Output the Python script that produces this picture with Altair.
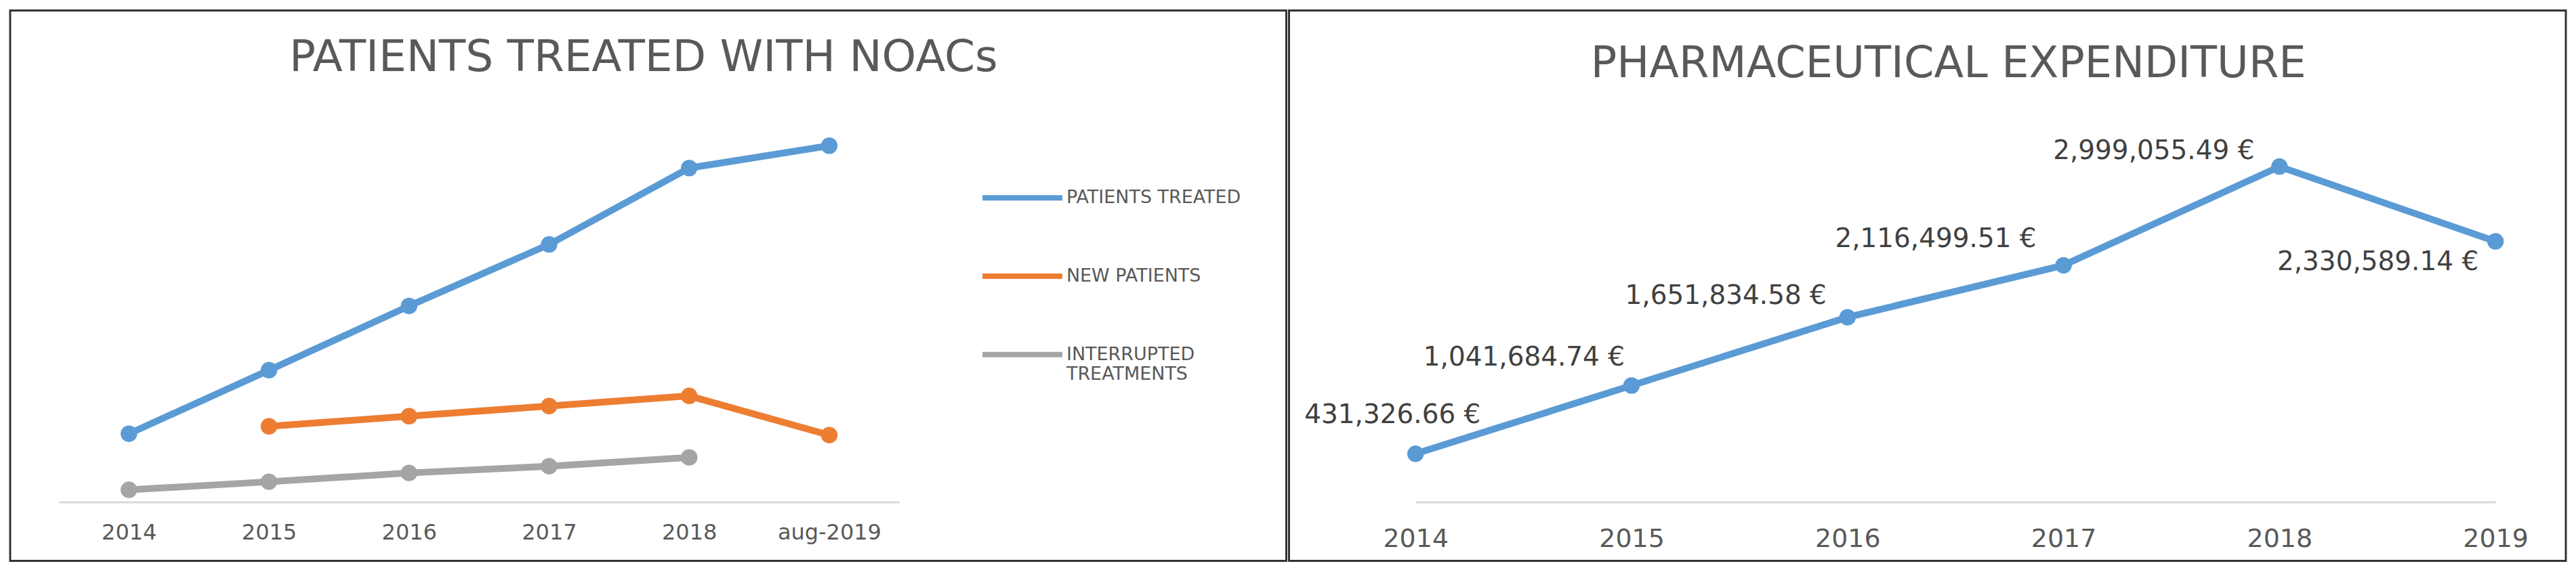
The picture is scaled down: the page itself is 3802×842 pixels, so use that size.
import altair as alt
import pandas as pd

# ---------------- data ----------------
left_years = ["2014", "2015", "2016", "2017", "2018", "aug-2019"]
patients_treated = [1010, 1950, 2900, 3810, 4940, 5270]
new_patients = [None, 1120, 1270, 1420, 1570, 990]
interrupted = [180, 300, 430, 530, 660, None]
series_names = ["PATIENTS TREATED", "NEW PATIENTS", "INTERRUPTED TREATMENTS"]
series_colors = ["#5B9BD5", "#ED7D31", "#A5A5A5"]

exp_years = ["2014", "2015", "2016", "2017", "2018", "2019"]
expenditure = [431326.66, 1041684.74, 1651834.58, 2116499.51, 2999055.49, 2330589.14]

# ---------------- tables ----------------
rows = []
for name, vals in zip(series_names, [patients_treated, new_patients, interrupted]):
    for yr, v in zip(left_years, vals):
        if v is not None:
            rows.append({"year": yr, "series": name, "value": v})
df_left = pd.DataFrame(rows)
df_exp = pd.DataFrame({"year": exp_years, "value": expenditure})

FONT = "DejaVu Sans"
TXT = "#595959"
PANEL_W1, PANEL_W2, PANEL_H = 1886, 1887, 814
AXIS_Y = 727

# ---------------- left panel ----------------
left = alt.Chart(df_left).mark_line(
    strokeWidth=10, point=alt.OverlayMarkDef(size=600, filled=True)
).encode(
    x=alt.X("year:O", sort=left_years,
            scale=alt.Scale(type="point", padding=0.5, range=[72, 1314]),
            axis=alt.Axis(title=None, labelAngle=0, ticks=False, domainColor="#D9D9D9",
                          domainWidth=3, offset=AXIS_Y - PANEL_H, labelPadding=30,
                          labelFont=FONT, labelFontSize=32, labelColor=TXT, grid=False)),
    y=alt.Y("value:Q", scale=alt.Scale(domain=[0, 6000], range=[AXIS_Y, 127]), axis=None),
    color=alt.Color("series:N",
                    scale=alt.Scale(domain=series_names, range=series_colors),
                    legend=alt.Legend(title=None, orient="none", legendX=1433, legendY=214,
                                      symbolType="stroke", symbolSize=13924, symbolStrokeWidth=8,
                                      labelFont=FONT, labelFontSize=27, labelColor=TXT,
                                      labelLimit=500, rowPadding=37, padding=0, labelOffset=2,
                                      labelExpr="datum.label == 'INTERRUPTED TREATMENTS' ? ['INTERRUPTED', 'TREATMENTS'] : datum.label")),
    detail="series:N",
).properties(
    width=PANEL_W1, height=PANEL_H,
    title=alt.TitleParams("PATIENTS TREATED WITH NOACs", font=FONT, fontSize=64.5,
                          fontWeight="normal", color=TXT, anchor="middle",
                          offset=-154, baseline="alphabetic", dx=-7),
)

# ---------------- right panel ----------------
base = alt.Chart(df_exp).transform_calculate(
    label="format(datum.value, ',.2f') + ' €'"
).encode(
    x=alt.X("year:O", sort=exp_years,
            scale=alt.Scale(type="point", padding=0, range=[187, 1783]),
            axis=alt.Axis(title=None, labelAngle=0, ticks=False, domainColor="#D9D9D9",
                          domainWidth=3, offset=AXIS_Y - PANEL_H, labelPadding=36,
                          labelFont=FONT, labelFontSize=38, labelColor=TXT, grid=False)),
    y=alt.Y("value:Q", scale=alt.Scale(domain=[0, 3500000], range=[AXIS_Y, 148]), axis=None),
)
line = base.mark_line(color="#5B9BD5", strokeWidth=10,
                      point=alt.OverlayMarkDef(size=600, filled=True, color="#5B9BD5"))

label_style = {
    "2014": ("center", -34, -57),
    "2015": ("right", -10, -42),
    "2016": ("right", -31, -32),
    "2017": ("right", -40, -39),
    "2018": ("right", -37, -23),
    "2019": ("right", -25, 31),
}
label_layers = []
for yr, (al, ddx, ddy) in label_style.items():
    label_layers.append(
        base.mark_text(align=al, dx=ddx, dy=ddy, font=FONT, fontSize=39, color="#404040")
        .encode(text="label:N")
        .transform_filter(alt.FieldEqualPredicate(field="year", equal=yr))
    )

right = alt.layer(line, *label_layers).properties(
    width=PANEL_W2, height=PANEL_H,
    title=alt.TitleParams("PHARMACEUTICAL EXPENDITURE", font=FONT, fontSize=64,
                          fontWeight="normal", color=TXT, anchor="middle",
                          offset=-163, baseline="alphabetic", dx=31),
)

chart = alt.hconcat(left, right, spacing=0).configure(
    background="white",
    view=alt.ViewConfig(stroke="#333333", strokeWidth=3),
)

chart.save("out.html", embed_options={"renderer": "svg", "actions": False})
